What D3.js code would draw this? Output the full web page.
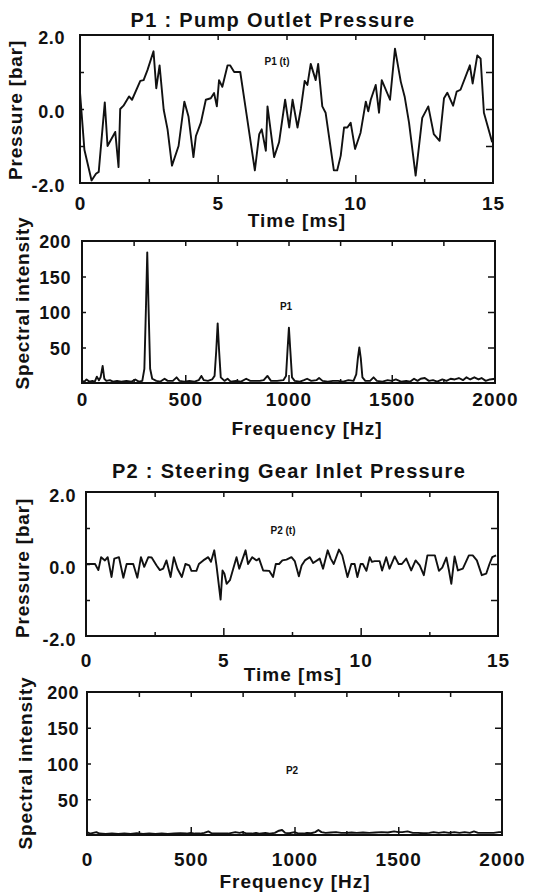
<!DOCTYPE html>
<html>

<head>
  <meta charset="utf-8">
  <title>Pump and Steering Gear Pressure</title>
  <script src="https://cdn.jsdelivr.net/npm/d3@7"></script>
  <style>
    body { margin: 0; background: #fff; }
    text { font-family: "Liberation Sans", Arial, sans-serif; font-weight: bold; fill: #111; }
  </style>
</head>

<body>
  <script type="text/javascript">
    // P1 pressure trace [time ms, pressure bar]
    var p1Trace = [[0, 0.45], [0.16, -1.1], [0.42, -1.93], [0.58, -1.75], [0.68, -1.7], [0.9, 0.18], [1.0, -1.0],
      [1.28, -0.62], [1.4, -1.57], [1.46, 0.0], [1.58, 0.09], [1.78, 0.34], [1.89, 0.25], [2.19, 0.76],
      [2.31, 0.78], [2.45, 1.05], [2.67, 1.56], [2.77, 0.56], [2.89, 1.18], [3.04, -0.02], [3.18, -0.55],
      [3.34, -1.53], [3.58, -1.0], [3.79, 0.2], [3.94, -0.2], [4.12, -1.3], [4.21, -0.73], [4.39, -0.37],
      [4.57, 0.25], [4.75, 0.29], [4.87, 0.43], [4.97, 0.07], [5.05, 0.78], [5.17, 0.6], [5.36, 1.18],
      [5.45, 1.18], [5.6, 1.0], [5.82, 1.0], [6.06, -0.2], [6.35, -1.66], [6.51, -0.68], [6.6, -0.55],
      [6.75, -1.13], [6.81, 0.07], [7.05, -1.3], [7.23, -0.9], [7.45, 0.25], [7.6, -0.5], [7.72, 0.25],
      [7.9, -0.5], [8.02, 0.0], [8.16, 0.76], [8.26, 0.65], [8.38, 1.22], [8.56, 0.78], [8.65, 1.22],
      [8.8, 0.07], [8.92, -0.1], [9.22, -1.66], [9.34, -1.66], [9.47, -1.26], [9.59, -0.5], [9.71, -0.5],
      [9.83, -0.37], [9.99, -1.08], [10.19, -0.64], [10.38, 0.2], [10.47, -0.06], [10.56, 0.25], [10.74, 0.65],
      [10.86, -0.1], [10.96, 0.78], [11.26, 0.25], [11.44, 1.63], [11.65, 0.74], [11.79, 0.34], [11.95, -0.37],
      [12.19, -1.8], [12.43, -0.24], [12.65, 0.07], [12.85, -0.68], [13.06, -0.86], [13.22, 0.29], [13.34, 0.44],
      [13.55, 0.09], [13.68, 0.47], [13.82, 0.52], [14.16, 1.18], [14.26, 0.69], [14.43, 1.45], [14.55, 1.36],
      [14.67, -0.1], [14.97, -0.9]];

    // P2 pressure trace [time ms, pressure bar]
    var p2Trace = [[0, 0.0], [0.33, 0.0], [0.45, -0.17], [0.55, 0.19], [0.69, 0.1], [0.79, 0.19], [0.93, -0.36],
      [1.03, 0.15], [1.2, 0.19], [1.36, -0.38], [1.48, 0.0], [1.72, 0.0], [1.87, -0.38], [2.0, 0.19],
      [2.12, -0.08], [2.27, 0.19], [2.39, 0.18], [2.57, -0.04], [2.69, -0.17], [2.81, -0.13], [2.93, 0.1],
      [3.08, -0.36], [3.2, 0.19], [3.33, -0.13], [3.49, -0.36], [3.62, 0.0], [3.76, -0.04], [3.84, -0.19],
      [4.02, -0.19], [4.11, 0.0], [4.27, 0.1], [4.45, 0.19], [4.55, 0.06], [4.67, 0.38], [4.75, -0.04],
      [4.9, -0.99], [4.97, -0.18], [5.04, -0.27], [5.12, -0.55], [5.24, -0.45], [5.48, 0.19], [5.58, -0.13],
      [5.81, 0.38], [5.9, 0.0], [6.05, 0.19], [6.21, 0.1], [6.3, 0.15], [6.45, -0.18], [6.67, -0.19],
      [6.81, -0.36], [6.91, 0.0], [7.03, 0.0], [7.15, 0.1], [7.3, 0.12], [7.48, 0.19], [7.6, 0.08],
      [7.75, -0.34], [7.85, -0.04], [7.97, 0.1], [8.15, 0.19], [8.27, 0.03], [8.51, 0.15], [8.63, -0.13],
      [8.8, 0.38], [8.91, 0.15], [9.02, 0.0], [9.21, 0.4], [9.33, 0.24], [9.52, -0.36], [9.66, 0.0],
      [9.78, 0.0], [9.88, -0.36], [10.0, 0.0], [10.08, 0.0], [10.21, -0.19], [10.33, 0.19], [10.41, 0.06],
      [10.51, 0.08], [10.69, 0.08], [10.78, -0.18], [10.93, 0.19], [11.05, -0.13], [11.24, 0.21], [11.38, 0.0],
      [11.5, 0.0], [11.66, 0.15], [11.84, -0.18], [12.0, 0.1], [12.15, -0.04], [12.3, -0.31], [12.43, 0.24],
      [12.7, 0.24], [12.85, -0.19], [12.97, -0.1], [13.12, 0.18], [13.21, -0.16], [13.3, -0.55], [13.42, 0.21],
      [13.54, -0.18], [13.72, -0.13], [13.94, 0.24], [14.08, 0.24], [14.23, 0.1], [14.41, -0.31], [14.57, -0.27],
      [14.69, 0.0], [14.79, 0.19], [14.93, 0.24]];

    // P1 spectrum [frequency Hz, intensity]
    var p1Spectrum = [[0, 3], [12, 2], [22, 5], [35, 2], [50, 3], [62, 2], [72, 9], [82, 4], [90, 8], [100, 24],
      [108, 6], [118, 3], [135, 4], [150, 2], [170, 3], [190, 2], [215, 3], [240, 2], [258, 5], [275, 2],
      [292, 3], [302, 20], [310, 110], [316, 184], [322, 110], [330, 20], [340, 6], [360, 3], [380, 2],
      [400, 6], [415, 3], [440, 3], [458, 8], [472, 3], [495, 2], [520, 3], [545, 2], [565, 4], [578, 10],
      [590, 4], [610, 3], [630, 5], [642, 10], [650, 45], [657, 84], [664, 45], [672, 8], [690, 3], [705, 6],
      [720, 2], [745, 3], [770, 2], [795, 6], [815, 3], [840, 3], [860, 3], [880, 4], [898, 10], [915, 3],
      [945, 3], [975, 4], [988, 10], [995, 45], [1002, 78], [1009, 45], [1017, 8], [1030, 3], [1055, 2],
      [1075, 4], [1090, 6], [1110, 3], [1135, 4], [1148, 7], [1165, 3], [1190, 2], [1215, 3], [1240, 3],
      [1265, 2], [1290, 4], [1315, 3], [1328, 12], [1336, 35], [1343, 50], [1350, 35], [1358, 8], [1372, 3],
      [1395, 3], [1412, 8], [1428, 3], [1455, 2], [1480, 4], [1500, 3], [1520, 5], [1545, 2], [1570, 3],
      [1590, 2], [1608, 6], [1625, 3], [1640, 6], [1660, 7], [1680, 3], [1700, 4], [1720, 2], [1745, 5],
      [1765, 3], [1785, 6], [1805, 5], [1825, 7], [1845, 4], [1862, 8], [1880, 5], [1900, 8], [1920, 5],
      [1935, 7], [1955, 3], [1975, 5], [2000, 6]];

    // P2 spectrum [frequency Hz, intensity]
    var p2Spectrum = [[0, 4], [15, 2], [30, 3], [45, 4], [60, 2], [90, 1.5], [120, 2], [150, 1.5], [180, 2],
      [210, 1.5], [240, 2.5], [270, 1.5], [300, 2], [330, 1.5], [360, 2], [390, 1.5], [420, 2], [450, 2.5],
      [480, 2], [500, 3], [520, 2], [545, 2], [565, 3], [585, 5], [600, 2.5], [620, 2], [650, 2], [680, 2],
      [715, 4], [735, 3], [750, 4], [770, 2], [795, 2], [815, 3], [830, 2], [860, 3], [880, 2], [905, 3],
      [925, 6], [940, 7], [955, 3], [975, 2.5], [1000, 4], [1020, 2], [1045, 2], [1060, 3], [1080, 2.5],
      [1100, 4], [1115, 7], [1130, 4], [1150, 3], [1175, 3.5], [1200, 4], [1225, 3], [1250, 3], [1275, 3.5],
      [1300, 3], [1330, 3.5], [1360, 3], [1390, 3.5], [1420, 4], [1450, 3.5], [1480, 5], [1500, 4],
      [1520, 4], [1545, 5], [1570, 3], [1595, 3], [1620, 2.5], [1650, 3], [1670, 4], [1695, 3], [1720, 4],
      [1745, 3], [1770, 4], [1795, 3], [1820, 4], [1845, 3], [1865, 5], [1885, 3], [1910, 3], [1935, 3],
      [1960, 3], [1985, 4], [2000, 4]];

    // tick values
    var timeTicks = [0, 5, 10, 15];
    var timeMinor = [2.5, 7.5, 12.5];
    var pressureTicks = [-2, 0, 2];
    var pressureMinor = [-1, 1];
    var freqTicks = [0, 500, 1000, 1500, 2000];
    var freqMinor = [250, 750, 1250, 1750];
    var intensityTicks = [50, 100, 150, 200];

    var w = 547;
    var h = 893;

    var svg = d3.select("body")
      .append("svg")
      .attr("width", w)
      .attr("height", h);

    function inwardTicks(g, axis) {
      g.call(axis).call(function(s) {
        s.select(".domain").remove();
        s.selectAll("text").remove();
        s.selectAll("line").attr("stroke", "#111").attr("stroke-width", 1.5);
      });
    }

    function drawPanel(o) {
      var x = d3.scaleLinear().domain(o.xDomain).range([o.left, o.right]);
      var y = d3.scaleLinear().domain(o.yDomain).range([o.bottom, o.top]);

      // ticks on all four sides, pointing inward
      var inner = o.xTicks.slice(1, -1);
      inwardTicks(svg.append("g").attr("transform", "translate(0," + o.bottom + ")"),
        d3.axisBottom(x).tickValues(inner).tickSize(-8));
      inwardTicks(svg.append("g").attr("transform", "translate(0," + o.bottom + ")"),
        d3.axisBottom(x).tickValues(o.xMinor).tickSize(-4));
      inwardTicks(svg.append("g").attr("transform", "translate(0," + o.top + ")"),
        d3.axisTop(x).tickValues(inner.concat(o.xMinor)).tickSize(-5));
      inwardTicks(svg.append("g").attr("transform", "translate(" + o.left + ",0)"),
        d3.axisLeft(y).tickValues(o.yInner).tickSize(-4));
      inwardTicks(svg.append("g").attr("transform", "translate(" + o.right + ",0)"),
        d3.axisRight(y).tickValues(o.yInner).tickSize(-7));

      // tick labels
      var xl = svg.append("g")
        .attr("transform", "translate(0," + o.xLabelTop + ")")
        .call(d3.axisBottom(x).tickValues(o.xTicks).tickSize(0).tickPadding(0).tickFormat(o.xFormat));
      xl.select(".domain").remove();
      xl.selectAll("text").attr("font-size", 19).attr("font-family", null).attr("letter-spacing", 1);

      var yl = svg.append("g")
        .attr("transform", "translate(" + o.left + "," + o.yLabelShift + ")")
        .call(d3.axisLeft(y).tickValues(o.yTicks).tickSize(0).tickPadding(o.left - o.yLabelRight).tickFormat(o.yFormat));
      yl.select(".domain").remove();
      yl.selectAll("text").attr("font-size", 18).attr("font-family", null).attr("letter-spacing", 0.6);

      // data line
      var line = d3.line().x(function(d) { return x(d[0]); }).y(function(d) { return y(d[1]); });
      svg.append("path")
        .datum(o.data)
        .attr("d", line)
        .attr("fill", "none")
        .attr("stroke", "#111")
        .attr("stroke-width", 1.9)
        .attr("stroke-linejoin", "round");

      // frame
      svg.append("rect")
        .attr("x", o.left).attr("y", o.top)
        .attr("width", o.right - o.left).attr("height", o.bottom - o.top)
        .attr("fill", "none").attr("stroke", "#111").attr("stroke-width", 2);

      // small series label
      svg.append("text")
        .attr("x", o.tagX).attr("y", o.tagY)
        .attr("text-anchor", "middle")
        .attr("font-size", 10)
        .text(o.tag);

      // axis titles
      svg.append("text")
        .attr("x", o.xTitleX).attr("y", o.xTitleY)
        .attr("text-anchor", "middle")
        .attr("font-size", 19)
        .attr("letter-spacing", 1)
        .text(o.xTitle);

      svg.append("text")
        .attr("transform", "translate(" + o.yTitleX + "," + o.yTitleY + ") rotate(-90)")
        .attr("text-anchor", "middle")
        .attr("font-size", 19)
        .attr("letter-spacing", 0.8)
        .text(o.yTitle);
    }

    // plain hyphen for negatives, as in the original
    var fmt1 = function(v) { return d3.format(".1f")(v).replace("\u2212", "-"); };
    var fmt0 = d3.format("d");

    svg.append("text").attr("x", 273).attr("y", 27).attr("text-anchor", "middle")
      .attr("font-size", 20).attr("letter-spacing", 1.3).text("P1 : Pump Outlet Pressure");
    svg.append("text").attr("x", 289).attr("y", 478).attr("text-anchor", "middle")
      .attr("font-size", 20).attr("letter-spacing", 1.3).text("P2 : Steering Gear Inlet Pressure");

    drawPanel({
      left: 80, right: 493, top: 35, bottom: 183,
      xDomain: [0, 15], yDomain: [-2, 2],
      xTicks: timeTicks, xMinor: timeMinor, yTicks: pressureTicks, yInner: pressureMinor.concat([0]),
      xFormat: fmt0, yFormat: fmt1,
      xLabelTop: 196, yLabelRight: 65, yLabelShift: 3,
      data: p1Trace, tag: "P1 (t)", tagX: 277, tagY: 65,
      xTitle: "Time [ms]", xTitleX: 297, xTitleY: 227,
      yTitle: "Pressure [bar]", yTitleX: 22, yTitleY: 110
    });

    drawPanel({
      left: 82, right: 495, top: 241, bottom: 383,
      xDomain: [0, 2000], yDomain: [0, 200],
      xTicks: freqTicks, xMinor: freqMinor, yTicks: intensityTicks, yInner: [50, 100, 150],
      xFormat: fmt0, yFormat: fmt0,
      xLabelTop: 392, yLabelRight: 71, yLabelShift: 1,
      data: p1Spectrum, tag: "P1", tagX: 286, tagY: 310,
      xTitle: "Frequency [Hz]", xTitleX: 307, xTitleY: 435,
      yTitle: "Spectral intensity", yTitleX: 29, yTitleY: 303
    });

    drawPanel({
      left: 86, right: 498, top: 492, bottom: 636,
      xDomain: [0, 15], yDomain: [-2, 2],
      xTicks: timeTicks, xMinor: timeMinor, yTicks: pressureTicks, yInner: pressureMinor.concat([0]),
      xFormat: fmt0, yFormat: fmt1,
      xLabelTop: 653, yLabelRight: 76, yLabelShift: 4,
      data: p2Trace, tag: "P2 (t)", tagX: 283, tagY: 534,
      xTitle: "Time [ms]", xTitleX: 293, xTitleY: 681,
      yTitle: "Pressure [bar]", yTitleX: 29, yTitleY: 568
    });

    drawPanel({
      left: 87, right: 502, top: 692, bottom: 835,
      xDomain: [0, 2000], yDomain: [0, 200],
      xTicks: freqTicks, xMinor: freqMinor, yTicks: intensityTicks, yInner: [50, 100, 150],
      xFormat: fmt0, yFormat: fmt0,
      xLabelTop: 852, yLabelRight: 79, yLabelShift: 1,
      data: p2Spectrum, tag: "P2", tagX: 292, tagY: 774,
      xTitle: "Frequency [Hz]", xTitleX: 295, xTitleY: 888,
      yTitle: "Spectral intensity", yTitleX: 32, yTitleY: 763
    });
  </script>
</body>

</html>
